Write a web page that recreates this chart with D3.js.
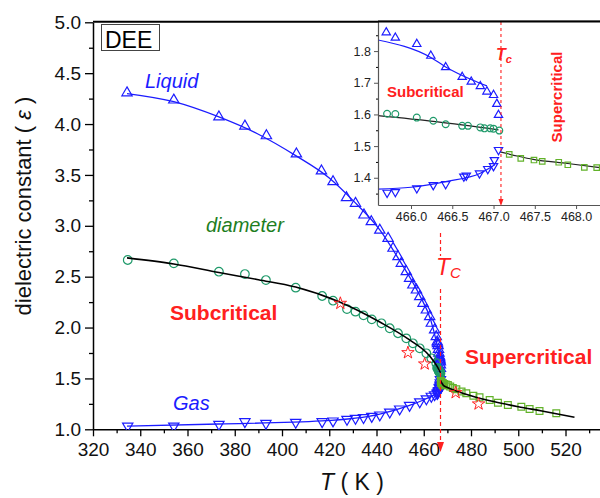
<!DOCTYPE html>
<html>
<head>
<meta charset="utf-8">
<script src="https://cdn.jsdelivr.net/npm/d3@7"></script>
<style>
body { margin: 0; background: #fff; }
text { font-family: "Liberation Sans", Arial, sans-serif; }
</style>
</head>
<body>
<div id="chart"></div>
<script>
/* Dielectric constant of DEE near the critical point, with a zoomed inset around Tc. */

const width = 600,
    height = 498;

const Tc = 467.09; // critical temperature (K)

// main plot: liquid branch
const liquidT = [334.4, 354.2, 373.3, 384.3, 393.4, 406.1, 416.7, 421.6, 427.3, 431.1, 434.7, 437.8, 441.4, 444.9, 447.0, 449.1, 450.5, 452.6, 454.0, 455.4, 456.9, 458.3, 459.7, 461.1, 462.5, 463.2, 464.6, 465.3];
const liquidE = [4.307, 4.236, 4.07, 3.98, 3.885, 3.706, 3.539, 3.433, 3.276, 3.221, 3.106, 3.04, 2.957, 2.877, 2.779, 2.696, 2.631, 2.549, 2.484, 2.418, 2.369, 2.303, 2.238, 2.172, 2.107, 2.042, 1.976, 1.91];
// diameter
const diamT = [334.7, 354.2, 373.3, 384.3, 393.2, 405.8, 417.0, 421.6, 427.5, 431.1, 434.5, 438.0, 442.1, 445.6, 449.1, 452.6, 455.4, 458.3, 461.1, 463.2, 465.3];
const diamE = [2.664, 2.631, 2.549, 2.526, 2.467, 2.392, 2.31, 2.264, 2.182, 2.156, 2.12, 2.08, 2.042, 1.993, 1.944, 1.894, 1.845, 1.796, 1.747, 1.698, 1.649];
// gas branch
const gasT = [334.7, 354.2, 373.3, 384.3, 393.2, 405.8, 417.0, 421.6, 427.5, 431.1, 434.5, 438.0, 441.4, 445.6, 449.8, 454.0, 458.3, 461.1, 463.2, 464.6];
const gasE = [1.032, 1.032, 1.049, 1.075, 1.059, 1.069, 1.075, 1.082, 1.098, 1.108, 1.115, 1.127, 1.141, 1.17, 1.2, 1.235, 1.27, 1.3, 1.325, 1.34];
// supercritical
const superT = [467.4, 468.0, 468.6, 469.3, 470.2, 471.2, 472.3, 473.8, 476.0, 478.0, 481.0, 483.6, 487.9, 491.4, 495.6, 501.3, 504.8, 509.0, 516.1];
const superE = [1.468, 1.455, 1.445, 1.44, 1.435, 1.42, 1.405, 1.393, 1.372, 1.354, 1.33, 1.314, 1.288, 1.261, 1.239, 1.222, 1.2, 1.18, 1.157];
// red stars
const starT = [424.7, 453.3, 460.4, 473.5, 483.2];
const starE = [2.238, 1.753, 1.642, 1.36, 1.249];

// fitted curves (main)
const liqFitT = [334.4, 354.2, 373.3, 390, 405.8, 420, 430, 441.4, 450, 458, 463, 465.6, 466.9];
const liqFitE = [4.30, 4.22, 4.07, 3.90, 3.69, 3.47, 3.25, 2.96, 2.65, 2.33, 2.07, 1.835, 1.69];
const diaFitT = [334.4, 354.2, 373.3, 390, 405.8, 424.4, 441.4, 454, 462.5, 465.6, 467.09];
const diaFitE = [2.685, 2.625, 2.541, 2.47, 2.398, 2.251, 2.054, 1.878, 1.72, 1.62, 1.555];
const gasFitT = [334.4, 373.3, 416.8, 441.4, 454, 461, 465.6, 467.0];
const gasFitE = [1.032, 1.052, 1.082, 1.15, 1.235, 1.30, 1.364, 1.44];
const supFitT = [467.08, 467.5, 468.3, 470, 474, 480, 490, 500, 510, 523.8];
const supFitE = [1.482, 1.462, 1.432, 1.41, 1.375, 1.33, 1.27, 1.222, 1.18, 1.118];

// inset points
const iLiqT = [465.70, 465.81, 466.07, 466.24, 466.42, 466.62, 466.73, 466.84, 466.92, 467.00, 467.04, 467.06];
const iLiqE = [1.859, 1.842, 1.822, 1.785, 1.749, 1.718, 1.703, 1.689, 1.672, 1.661, 1.633, 1.598];
const iDiaT = [465.71, 465.81, 466.07, 466.27, 466.42, 466.62, 466.69, 466.84, 466.89, 466.96, 467.00, 467.07];
const iDiaE = [1.602, 1.601, 1.59, 1.58, 1.569, 1.564, 1.564, 1.559, 1.556, 1.556, 1.555, 1.549];
const iGasT = [465.71, 465.81, 466.07, 466.27, 466.42, 466.64, 466.67, 466.83, 466.93, 467.00, 467.01, 467.06];
const iGasE = [1.353, 1.355, 1.367, 1.377, 1.38, 1.404, 1.407, 1.414, 1.428, 1.437, 1.456, 1.488];
const iSupT = [467.19, 467.33, 467.49, 467.59, 467.79, 467.90, 468.10, 468.25];
const iSupE = [1.474, 1.461, 1.456, 1.452, 1.449, 1.441, 1.433, 1.432];
// inset fits
const iLiqFitT = [465.6, 466.24, 466.42, 466.75, 466.92];
const iLiqFitE = [1.835, 1.78, 1.75, 1.708, 1.69];
const iDiaFitT = [465.6, 466.3, 467.06];
const iDiaFitE = [1.596, 1.577, 1.551];
const iGasFitT = [465.6, 466.0, 466.42, 466.84, 467.01];
const iGasFitE = [1.364, 1.37, 1.388, 1.414, 1.44];
const iSupFitT = [467.08, 467.3, 467.48, 467.9, 468.29];
const iSupFitE = [1.482, 1.468, 1.458, 1.445, 1.432];

// ticks
const xTicks = d3.range(320, 521, 20);
const yTicks = [1.0, 1.5, 2.0, 2.5, 3.0, 3.5, 4.0, 4.5, 5.0];
const ixTicks = [466.0, 466.5, 467.0, 467.5, 468.0];
const iyTicks = [1.4, 1.5, 1.6, 1.7, 1.8];

const blue = "#1c1cff", teal = "#1f9a6a", lime = "#62b22a", red = "#ff2020";

const zip = (a, b) => a.map((v, i) => [v, b[i]]);

const svg = d3.select("#chart")
    .append("svg")
    .attr("width", width)
    .attr("height", height);

let x = d3.scaleLinear().domain([320, 534.6]).range([93, 600]);
let y = d3.scaleLinear().domain([1, 5]).range([429.3, 22.3]);

svg.append("clipPath").attr("id", "clipMain")
    .append("rect").attr("x", 93).attr("y", 22).attr("width", 507).attr("height", 408);

// axes
let gx = svg.append("g")
    .attr("transform", `translate(0,${y(1)})`)
    .call(d3.axisBottom(x).tickValues(xTicks).tickSize(7).tickPadding(6).tickSizeOuter(0).tickFormat(d3.format("d")));
svg.append("g")
    .attr("transform", `translate(0,${y(1)})`)
    .call(d3.axisBottom(x).tickValues(d3.range(330, 531, 20)).tickSize(4).tickFormat("").tickSizeOuter(0))
    .select(".domain").remove();
let gy = svg.append("g")
    .attr("transform", `translate(${x(320)},0)`)
    .call(d3.axisLeft(y).tickValues(yTicks).tickSize(8).tickPadding(4).tickSizeOuter(0).tickFormat(d3.format(".1f")));
svg.append("g")
    .attr("transform", `translate(${x(320)},0)`)
    .call(d3.axisLeft(y).tickValues(d3.range(1.25, 5, 0.5)).tickSize(4).tickFormat("").tickSizeOuter(0))
    .select(".domain").remove();
svg.selectAll(".domain").attr("stroke-width", 1.5);
svg.selectAll(".tick line").attr("stroke-width", 1.3);
svg.selectAll(".tick text").attr("font-size", 19).attr("fill", "#111").attr("font-family", "Liberation Sans, Arial, sans-serif");

// top frame line
svg.append("line")
    .attr("x1", x(320)).attr("x2", 600)
    .attr("y1", y(5) - 0.5).attr("y2", y(5) - 0.5)
    .attr("stroke", "#000").attr("stroke-width", 2);

// axis titles
svg.append("text")
    .attr("transform", "translate(31,206) rotate(-90)")
    .attr("text-anchor", "middle")
    .attr("font-size", 22)
    .attr("fill", "#111")
    .html('dielectric constant ( <tspan font-style="italic">ε</tspan> )');
svg.append("text")
    .attr("x", 352).attr("y", 490)
    .attr("text-anchor", "middle")
    .attr("font-size", 23)
    .attr("fill", "#111")
    .html('<tspan font-style="italic">T</tspan>  ( K )');

let plot = svg.append("g").attr("clip-path", "url(#clipMain)");

let line = (sx, sy) => d3.line().x(d => sx(d[0])).y(d => sy(d[1])).curve(d3.curveMonotoneX);

function drawSet(g, sx, sy, T, E, opt) {
    let sym = d3.symbol().type(opt.type).size(opt.size);
    g.append("g").selectAll("path")
        .data(zip(T, E))
        .join("path")
        .attr("d", sym)
        .attr("transform", d => `translate(${sx(d[0])},${sy(d[1])})` + (opt.flip ? " rotate(180)" : ""))
        .attr("fill", "none")
        .attr("stroke", opt.color)
        .attr("stroke-width", opt.sw || 1.2);
}
function drawFit(g, sx, sy, T, E, color, sw) {
    g.append("path")
        .datum(zip(T, E))
        .attr("d", line(sx, sy))
        .attr("fill", "none")
        .attr("stroke", color)
        .attr("stroke-width", sw);
}

// main markers (near-Tc part comes from the inset data too)
drawSet(plot, x, y, liquidT.concat(iLiqT), liquidE.concat(iLiqE), { type: d3.symbolTriangle, size: 46, color: blue });
drawSet(plot, x, y, gasT.concat(iGasT), gasE.concat(iGasE), { type: d3.symbolTriangle, size: 46, color: blue, flip: true });
drawFit(plot, x, y, liqFitT, liqFitE, blue, 1.3);
drawFit(plot, x, y, gasFitT, gasFitE, blue, 1.3);
drawSet(plot, x, y, diamT.concat(iDiaT), diamE.concat(iDiaE), { type: d3.symbolCircle, size: 58, color: teal });
drawSet(plot, x, y, superT.concat(iSupT), superE.concat(iSupE), { type: d3.symbolSquare, size: 46, color: lime });
drawFit(plot, x, y, diaFitT, diaFitE, "#000", 1.6);
drawFit(plot, x, y, supFitT, supFitE, "#000", 1.6);
drawSet(plot, x, y, starT, starE, { type: d3.symbolStar, size: 48, color: red, sw: 1 });

// Tc dashed marker on the main plot
const xc = x(Tc);
svg.append("line").attr("x1", xc).attr("x2", xc).attr("y1", 233).attr("y2", 256)
    .attr("stroke", red).attr("stroke-width", 1.2).attr("stroke-dasharray", "4,3");
svg.append("line").attr("x1", xc).attr("x2", xc).attr("y1", 289).attr("y2", 442)
    .attr("stroke", red).attr("stroke-width", 1.2).attr("stroke-dasharray", "4,3");
svg.append("path").attr("d", `M${xc - 3.5},${442}L${xc + 3.5},${442}L${xc},${452}Z`).attr("fill", red);

// labels
svg.append("rect").attr("x", 101.5).attr("y", 24.5).attr("width", 58).attr("height", 26)
    .attr("fill", "#fff").attr("stroke", "#444").attr("stroke-width", 1);
svg.append("text").attr("x", 105).attr("y", 47.5).attr("font-size", 23).attr("fill", "#000").text("DEE");
svg.append("text").attr("x", 145).attr("y", 88).attr("font-size", 20).attr("font-style", "italic").attr("fill", blue).text("Liquid");
svg.append("text").attr("x", 206).attr("y", 232).attr("font-size", 20).attr("font-style", "italic").attr("fill", "#1e7e1e").text("diameter");
svg.append("text").attr("x", 170).attr("y", 320).attr("font-size", 21).attr("font-weight", "bold").attr("fill", red).text("Subcritical");
svg.append("text").attr("x", 173).attr("y", 410).attr("font-size", 20).attr("font-style", "italic").attr("fill", blue).text("Gas");
svg.append("text").attr("x", 465).attr("y", 364).attr("font-size", 21).attr("font-weight", "bold").attr("fill", red).text("Supercritical");
svg.append("text").attr("x", 436).attr("y", 275).attr("font-size", 23).attr("font-style", "italic").attr("fill", red)
    .html('T<tspan font-size="15" dy="3">C</tspan>');

// ---- inset ----
let ix = d3.scaleLinear().domain([465.6, 468.29]).range([378, 600]);
let iy = d3.scaleLinear().domain([1.314, 1.895]).range([205, 21]);

svg.append("clipPath").attr("id", "clipInset")
    .append("rect").attr("x", 378).attr("y", 21).attr("width", 222).attr("height", 184);

svg.append("rect").attr("x", 378).attr("y", 21).attr("width", 222).attr("height", 184).attr("fill", "#fff");

let ig = svg.append("g").attr("clip-path", "url(#clipInset)");
drawFit(ig, ix, iy, iLiqFitT, iLiqFitE, blue, 1.2);
drawFit(ig, ix, iy, iGasFitT, iGasFitE, blue, 1.2);
drawFit(ig, ix, iy, iDiaFitT, iDiaFitE, "#222", 1.2);
drawFit(ig, ix, iy, iSupFitT, iSupFitE, "#222", 1.2);
drawSet(ig, ix, iy, iLiqT, iLiqE, { type: d3.symbolTriangle, size: 30, color: blue });
drawSet(ig, ix, iy, iGasT, iGasE, { type: d3.symbolTriangle, size: 30, color: blue, flip: true });
drawSet(ig, ix, iy, iDiaT, iDiaE, { type: d3.symbolCircle, size: 36, color: teal });
drawSet(ig, ix, iy, iSupT, iSupE, { type: d3.symbolSquare, size: 30, color: lime });

let igx = svg.append("g")
    .attr("transform", "translate(0,205)")
    .call(d3.axisBottom(ix).tickValues(ixTicks).tickSize(4).tickPadding(3).tickSizeOuter(0).tickFormat(d3.format(".1f")));
let igy = svg.append("g")
    .attr("transform", "translate(378,0)")
    .call(d3.axisLeft(iy).tickValues(iyTicks).tickSize(4).tickPadding(3).tickSizeOuter(0).tickFormat(d3.format(".1f")));
svg.append("g").attr("transform", "translate(378,0)")
    .call(d3.axisLeft(iy).tickValues([1.35, 1.45, 1.55, 1.65, 1.75, 1.85]).tickSize(2).tickFormat("").tickSizeOuter(0))
    .select(".domain").remove();
[igx, igy].forEach(g => {
    g.select(".domain").attr("stroke", "#555").attr("stroke-width", 1.2);
    g.selectAll(".tick line").attr("stroke", "#555");
    g.selectAll(".tick text").attr("font-size", 12.5).attr("fill", "#222");
});

// Tc line in inset
const ixc = ix(Tc);
svg.append("line").attr("x1", ixc).attr("x2", ixc).attr("y1", 22).attr("y2", 200)
    .attr("stroke", red).attr("stroke-width", 1.1).attr("stroke-dasharray", "3,3");
svg.append("path").attr("d", `M${ixc - 2.5},199L${ixc + 2.5},199L${ixc},206Z`).attr("fill", red);
svg.append("text").attr("x", 496).attr("y", 60).attr("font-size", 16).attr("font-style", "italic").attr("font-weight", "bold").attr("fill", red)
    .html('T<tspan font-size="11" dy="3">c</tspan>');
svg.append("text").attr("x", 387).attr("y", 97).attr("font-size", 15).attr("font-weight", "bold").attr("fill", red).text("Subcritical");
svg.append("text").attr("transform", "translate(562,97) rotate(-90)").attr("text-anchor", "middle")
    .attr("font-size", 15).attr("font-weight", "bold").attr("fill", red).text("Supercritical");

// redraw main top line over inset
svg.append("line").attr("x1", 378).attr("x2", 600).attr("y1", 21.5).attr("y2", 21.5)
    .attr("stroke", "#000").attr("stroke-width", 2);
</script>
</body>
</html>
